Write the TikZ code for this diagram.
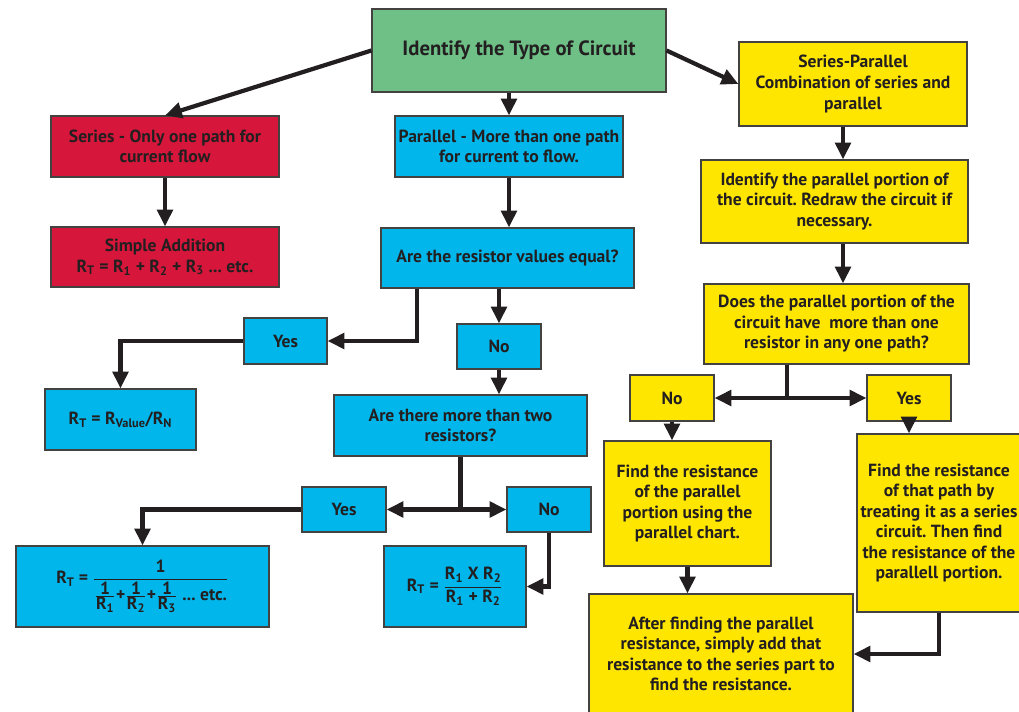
\documentclass[tikz,border=0pt]{standalone}
\usepackage{fontspec}
\setmainfont{PT Sans}
\usetikzlibrary{arrows.meta,calc}
\definecolor{typegreen}{RGB}{110,192,135}
\definecolor{serred}{RGB}{214,22,58}
\definecolor{parblue}{RGB}{0,182,235}
\definecolor{spyellow}{RGB}{255,230,0}
\definecolor{ink}{RGB}{35,31,32}
\newcommand{\Rs}[1]{R\textsubscript{#1}}
\def\px{0.025cm}
\frenchspacing
\begin{document}
\begin{tikzpicture}[x=0.025cm, y=-0.025cm, font=\bfseries\fontsize{12.5}{14.6}\selectfont, text=ink,
  box/.style={draw=ink!85, line width=0.8pt, align=center, inner sep=1pt},
  sz/.style 2 args={minimum width=#1*\px, minimum height=#2*\px},
  green/.style={box, fill=typegreen}, red/.style={box, fill=serred},
  blue/.style={box, fill=parblue}, yellow/.style={box, fill=spyellow},
  flow/.style={line width=3pt, draw=ink, -{Triangle[length=12pt,width=11pt]}},
  biflow/.style={line width=3pt, draw=ink, {Triangle[length=12pt,width=11pt]}-{Triangle[length=12pt,width=11pt]}}]
  \fill[white] (0,0) rectangle (1019,711);
  \useasboundingbox (0,0) rectangle (1019,711);
  % top
  \node[green, sz={294}{83}, font=\bfseries\fontsize{14.7}{17}\selectfont] (type) at (519,50.5) {Identify the Type of Circuit};
  % series side
  \node[red, sz={228}{61}] (series) at (165,146.5) {Series - Only one path for\\current flow};
  \node[red, sz={228}{60}] (simple) at (165,257) {Simple Addition\\\Rs{T} = \Rs{1} + \Rs{2} + \Rs{3} ... etc.};
  % parallel side
  \node[blue, sz={228}{61}] (parallel) at (509,146.5) {Parallel - More than one path\\for current to flow.};
  \node[blue, sz={253}{60}] (equal) at (507.5,258) {Are the resistor values equal?};
  \node[blue, sz={83}{46}] (yes1) at (285.5,341) {Yes};
  \node[blue, sz={84}{45}] (no1) at (499,346.5) {No};
  \node[blue, sz={151}{61}] (rvalue) at (120.5,419.5) {\Rs{T} = \Rs{Value}/\Rs{N}};
  \node[blue, sz={253}{61}] (more2) at (460.5,425.5) {Are there more than two\\resistors?};
  \node[blue, sz={84}{45}] (yes2) at (344,509.5) {Yes};
  \node[blue, sz={84}{45}] (no2) at (549,509.5) {No};
  \node[blue, sz={253}{81}] (fsum) at (142.5,586.5)
    {\(\mbox{\Rs{T} = }\displaystyle\frac{\mbox{1}}{\frac{\mbox{1}}{\mbox{\Rs{1}}}\mbox{+}\frac{\mbox{1}}{\mbox{\Rs{2}}}\mbox{+}\frac{\mbox{1}}{\mbox{\Rs{3}}}\mbox{ ... etc.}}\)};
  \node[blue, sz={142}{81}] (fprod) at (455,586.5)
    {\(\mbox{\Rs{T} = }\displaystyle\frac{\mbox{\Rs{1} X \Rs{2}}}{\mbox{\Rs{1} + \Rs{2}}}\)};
  % series-parallel side
  \node[yellow, sz={228}{84}] (sp) at (853,84) {Series-Parallel\\Combination of series and\\parallel};
  \node[yellow, sz={267}{83}] (portion) at (834.5,201.5) {Identify the parallel portion of\\the circuit. Redraw the circuit if\\necessary.};
  \node[yellow, sz={265}{80}] (onepath) at (836.5,324) {Does the parallel portion of the\\circuit have\ \ more than one\\resistor in any one path?};
  \node[yellow, sz={84}{46}] (no3) at (672,398) {No};
  \node[yellow, sz={84}{46}] (yes3) at (909,398) {Yes};
  \node[yellow, sz={167}{125}] (chart) at (687.5,503.5) {Find the resistance\\of the parallel\\portion using the\\parallel chart.};
  \node[yellow, sz={164}{178}] (seriesp) at (939,523) {Find the resistance\\of that path by\\treating it as a series\\circuit. Then find\\the resistance of the\\parallell portion.};
  \node[yellow, sz={264}{120}] (after) at (721,654) {After finding the parallel\\resistance, simply add that\\resistance to the series part to\\find the resistance.};
  \coordinate (spine) at (843,0);
  \coordinate (split3) at (787,398);
  % connectors
  \draw[flow] (type.west) -- (series.north);
  \draw[flow] (parallel.north |- type.south) -- (parallel.north);
  \draw[flow] (type.east) -- (sp.west);
  \draw[flow] (series) -- (simple);
  \draw[flow] (parallel) -- (parallel |- equal.north);
  \draw[flow] ($(equal.south)+(-90.5,0)$) |- (yes1);
  \draw[flow] (no1 |- equal.south) -- (no1.north);
  \draw[flow] (yes1) -| (rvalue);
  \draw[flow] (no1) -- (no1 |- more2.north);
  \draw[line width=3pt, draw=ink] (more2) -- (more2 |- yes2);
  \draw[biflow] (yes2) -- (no2);
  \draw[flow] (yes2) -| (fsum);
  \draw[flow] (no2) |- (fprod);
  \draw[flow] (sp.south -| spine) -- (portion.north -| spine);
  \draw[flow] (portion.south -| spine) -- (onepath.north -| spine);
  \draw[line width=3pt, draw=ink] (onepath.south -| split3) -- (split3);
  \draw[biflow] (no3) -- (yes3);
  \draw[flow] (no3) -- (no3 |- chart.north);
  \draw[flow] (yes3) -- (yes3 |- seriesp.north);
  \draw[flow] (chart) -- (chart |- after.north);
  \draw[flow] (seriesp) |- (after);
\end{tikzpicture}
\end{document}
